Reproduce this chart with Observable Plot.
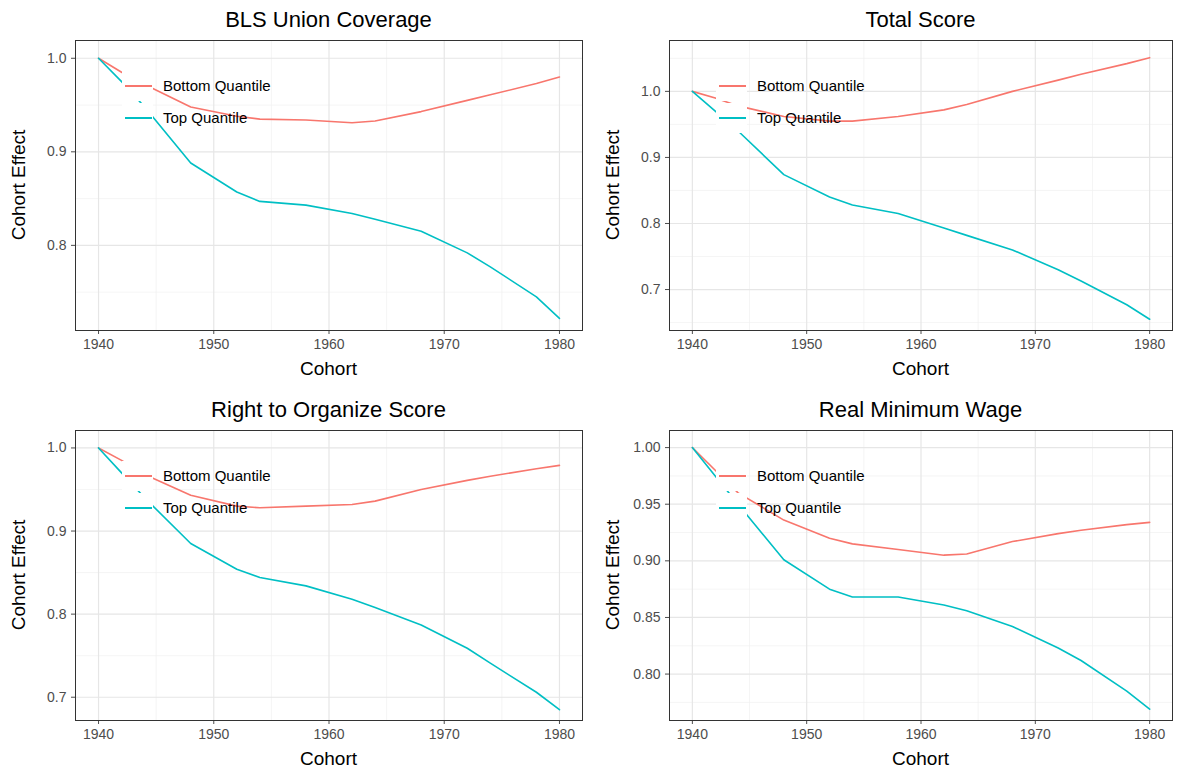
<!DOCTYPE html>
<html><head><meta charset="utf-8">
<script src="https://cdn.jsdelivr.net/npm/d3@7"></script>
<script src="https://cdn.jsdelivr.net/npm/@observablehq/plot@0.6"></script>
<style>
body{margin:0;background:#fff;font-family:"Liberation Sans",Arial,sans-serif}
#wrap{position:relative;width:1179px;height:771px}
.ttl{position:absolute;font-size:22px;color:#000;text-align:center}
.lab{position:absolute;font-size:19px;color:#000;text-align:center}
.ylab{position:absolute;font-size:19px;color:#000;transform:rotate(-90deg);transform-origin:center;white-space:nowrap;text-align:center;width:200px}
.leg{position:absolute;font-size:15px;width:180px;height:64px}
.leg div{position:absolute;left:41px}
.leg i{position:absolute;left:0;width:31px;height:30px;background:#fff}
.leg span{position:absolute;left:3px;width:27px;height:2px}
.pan{position:absolute}
</style></head><body>
<div id="wrap"></div>
<script>
var cohorts = [1940,1942,1944,1948,1952,1954,1958,1962,1964,1968,1972,1974,1978,1980];

var blsBottom = [1.0,0.985,0.972,0.948,0.938,0.935,0.934,0.931,0.933,0.943,0.955,0.961,0.973,0.980];
var blsTop    = [1.0,0.975,0.948,0.888,0.857,0.847,0.843,0.834,0.828,0.815,0.792,0.777,0.745,0.722];
var totBottom = [1.0,0.99,0.978,0.962,0.955,0.955,0.962,0.972,0.98,1.0,1.017,1.026,1.042,1.051];
var totTop    = [1.0,0.97,0.94,0.874,0.840,0.828,0.815,0.793,0.782,0.760,0.730,0.713,0.677,0.655];
var rtoBottom = [1.0,0.985,0.968,0.943,0.930,0.928,0.930,0.932,0.936,0.950,0.961,0.966,0.975,0.979];
var rtoTop    = [1.0,0.97,0.94,0.885,0.854,0.844,0.834,0.818,0.808,0.787,0.759,0.741,0.706,0.685];
var mwBottom  = [1.0,0.98,0.96,0.936,0.920,0.915,0.910,0.905,0.906,0.917,0.924,0.927,0.932,0.934];
var mwTop     = [1.0,0.975,0.95,0.901,0.875,0.868,0.868,0.861,0.856,0.842,0.823,0.812,0.785,0.769];

var xMajor = [1940,1950,1960,1970,1980];
var xMinor = [1945,1955,1965,1975];

var panels = [
  {title:"BLS Union Coverage", b:blsBottom, t:blsTop, dom:[0.709,1.019], major:[0.8,0.9,1.0], minor:[0.75,0.85,0.95], fmt:".1f", left:0, top:35},
  {title:"Total Score", b:totBottom, t:totTop, dom:[0.638,1.077], major:[0.7,0.8,0.9,1.0], minor:[0.65,0.75,0.85,0.95,1.05], fmt:".1f", left:594, top:35},
  {title:"Right to Organize Score", b:rtoBottom, t:rtoTop, dom:[0.672,1.021], major:[0.7,0.8,0.9,1.0], minor:[0.75,0.85,0.95], fmt:".1f", left:0, top:425},
  {title:"Real Minimum Wage", b:mwBottom, t:mwTop, dom:[0.759,1.0151], major:[0.80,0.85,0.90,0.95,1.00], minor:[0.775,0.825,0.875,0.925,0.975], fmt:".2f", left:594, top:425}
];

var wrap = d3.select("#wrap");
panels.forEach(p => {
  var rows = [];
  cohorts.forEach((c,i) => {
    rows.push({cohort:c, v:p.b[i], q:"Bottom Quantile"});
    rows.push({cohort:c, v:p.t[i], q:"Top Quantile"});
  });
  var h = p.top < 100 ? 350 : 346;
  var chart = Plot.plot({
    width: p.left ? 585 : 590, height: h,
    marginTop: 5, marginLeft: 75, marginRight: p.left ? 7 : 8, marginBottom: h - 5 - 290,
    style: {fontFamily:"Liberation Sans, Arial, sans-serif", fontSize:"14px", color:"#4d4d4d"},
    x: {domain:[1938,1982], ticks:xMajor, tickFormat:"d", label:null, tickSize:4},
    y: {domain:p.dom, ticks:p.major, tickFormat:p.fmt, label:null, tickSize:4},
    color: {domain:["Bottom Quantile","Top Quantile"], range:["#F8766D","#00BFC4"]},
    marks: [
      Plot.ruleY(p.minor, {stroke:"#f0f0f0", strokeWidth:0.7, strokeOpacity:1}),
      Plot.ruleX(xMinor, {stroke:"#f0f0f0", strokeWidth:0.7, strokeOpacity:1}),
      Plot.ruleY(p.major, {stroke:"#e6e6e6", strokeWidth:1.2, strokeOpacity:1}),
      Plot.ruleX(xMajor, {stroke:"#e6e6e6", strokeWidth:1.2, strokeOpacity:1}),
      Plot.lineY(rows, {x:"cohort", y:"v", stroke:"q", strokeWidth:1.6}),
      Plot.frame({stroke:"#333"})
    ]
  });
  wrap.append("div").attr("class","pan").style("left",p.left+"px").style("top",p.top+"px").node().appendChild(chart);
  var plotL = p.left + 75, plotR = p.left + (p.left ? 578 : 582);
  var plotTop = p.top + 5, plotBot = plotTop + 290;
  wrap.append("div").attr("class","ttl").style("left",plotL+"px").style("width",(plotR-plotL)+"px")
    .style("top",(p.top-28)+"px").text(p.title);
  wrap.append("div").attr("class","lab").style("left",plotL+"px").style("width",(plotR-plotL)+"px")
    .style("top",(plotBot+28)+"px").text("Cohort");
  wrap.append("div").attr("class","ylab").style("left",(p.left+19-100)+"px")
    .style("top",((plotTop+plotBot)/2-11)+"px").text("Cohort Effect");
  var leg = wrap.append("div").attr("class","leg").style("left",(p.left+122)+"px").style("top",(p.top+36)+"px");
  [["Bottom Quantile","#F8766D",0],["Top Quantile","#00BFC4",32]].forEach(([n,c,y]) => {
    leg.append("i").style("top",y+"px");
    leg.append("span").style("top",(y+14)+"px").style("background",c);
    leg.append("div").style("top",(y+6)+"px").text(n);
  });
});
</script>
</body></html>
